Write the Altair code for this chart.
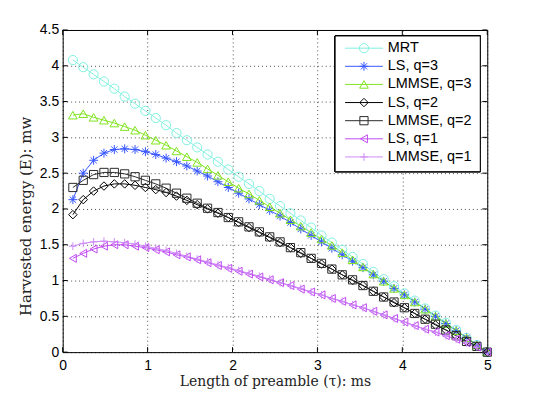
import altair as alt
import pandas as pd

# ---------------- data ----------------
tau = [0.12, 0.242, 0.364, 0.486, 0.608, 0.73, 0.852, 0.974, 1.096, 1.218,
       1.34, 1.462, 1.584, 1.706, 1.828, 1.95, 2.072, 2.194, 2.316, 2.438,
       2.56, 2.682, 2.804, 2.926, 3.048, 3.17, 3.292, 3.414, 3.536, 3.658,
       3.78, 3.902, 4.024, 4.146, 4.268, 4.39, 4.512, 4.634, 4.756, 4.878, 5.0]

mrt = [4.08, 3.98, 3.88, 3.78, 3.68, 3.57, 3.47, 3.37, 3.27, 3.17,
       3.06, 2.96, 2.86, 2.76, 2.66, 2.55, 2.45, 2.35, 2.25, 2.14,
       2.04, 1.94, 1.84, 1.74, 1.63, 1.53, 1.43, 1.33, 1.23, 1.12,
       1.02, 0.92, 0.82, 0.72, 0.61, 0.51, 0.41, 0.31, 0.20, 0.10, 0.00]

ls_q3 = [2.13, 2.50, 2.68, 2.78, 2.83, 2.84, 2.83, 2.80, 2.76, 2.71,
         2.66, 2.60, 2.53, 2.46, 2.38, 2.30, 2.22, 2.14, 2.06, 1.98,
         1.90, 1.81, 1.72, 1.63, 1.54, 1.45, 1.36, 1.27, 1.18, 1.08,
         0.99, 0.89, 0.80, 0.70, 0.60, 0.50, 0.40, 0.30, 0.20, 0.10, 0.00]

lmmse_q3 = [3.31, 3.33, 3.28, 3.24, 3.20, 3.15, 3.10, 3.03, 2.96, 2.89,
            2.81, 2.73, 2.65, 2.56, 2.47, 2.38, 2.29, 2.21, 2.12, 2.03,
            1.94, 1.85, 1.76, 1.67, 1.58, 1.49, 1.39, 1.29, 1.19, 1.09,
            0.99, 0.89, 0.80, 0.70, 0.60, 0.50, 0.40, 0.30, 0.20, 0.10, 0.00]

ls_q2 = [1.92, 2.13, 2.25, 2.32, 2.35, 2.35, 2.33, 2.30, 2.27, 2.23,
         2.18, 2.12, 2.06, 2.00, 1.94, 1.88, 1.81, 1.74, 1.67, 1.60,
         1.53, 1.46, 1.38, 1.31, 1.23, 1.16, 1.08, 1.00, 0.93, 0.85,
         0.77, 0.69, 0.62, 0.54, 0.46, 0.38, 0.31, 0.23, 0.15, 0.08, 0.00]

lmmse_q2 = [2.30, 2.40, 2.48, 2.51, 2.51, 2.49, 2.45, 2.40, 2.35, 2.29,
            2.22, 2.15, 2.08, 2.01, 1.95, 1.88, 1.82, 1.75, 1.68, 1.61,
            1.54, 1.46, 1.39, 1.31, 1.24, 1.16, 1.08, 1.01, 0.93, 0.85,
            0.77, 0.70, 0.62, 0.54, 0.46, 0.39, 0.31, 0.23, 0.15, 0.08, 0.00]

ls_q1 = [1.31, 1.38, 1.44, 1.48, 1.50, 1.50, 1.48, 1.46, 1.43, 1.40,
         1.36, 1.33, 1.29, 1.25, 1.21, 1.17, 1.13, 1.09, 1.05, 1.01,
         0.97, 0.93, 0.88, 0.84, 0.80, 0.75, 0.71, 0.66, 0.62, 0.57,
         0.52, 0.47, 0.42, 0.37, 0.32, 0.28, 0.23, 0.18, 0.13, 0.07, 0.00]

lmmse_q1 = [1.48, 1.52, 1.54, 1.55, 1.54, 1.53, 1.51, 1.48, 1.45, 1.42,
            1.38, 1.34, 1.30, 1.26, 1.22, 1.18, 1.14, 1.10, 1.06, 1.02,
            0.97, 0.93, 0.89, 0.84, 0.80, 0.75, 0.71, 0.66, 0.62, 0.57,
            0.52, 0.47, 0.42, 0.37, 0.32, 0.28, 0.23, 0.18, 0.13, 0.07, 0.00]

series_names = ["MRT", "LS, q=3", "LMMSE, q=3", "LS, q=2", "LMMSE, q=2",
                "LS, q=1", "LMMSE, q=1"]
series_values = [mrt, ls_q3, lmmse_q3, ls_q2, lmmse_q2, ls_q1, lmmse_q1]

x_ticks = [0, 1, 2, 3, 4, 5]
y_ticks = [0, 0.5, 1, 1.5, 2, 2.5, 3, 3.5, 4, 4.5]

# ---------------- styling ----------------
colors = ["#80F0E0", "#3657FF", "#80E41E", "#000000", "#2a2a2a", "#C04AF2", "#CF8CF8"]
asterisk = "M-1,0L1,0M0,-1L0,1M-0.7,-0.7L0.7,0.7M-0.7,0.7L0.7,-0.7"
plus = "M-1,0L1,0M0,-1L0,1"
shapes = ["circle", asterisk, "triangle-up", "diamond", "square", "triangle-left", plus]
sizes = [85, 60, 85, 85, 55, 85, 60]

W, H = 427, 324

rows = []
for name, vals in zip(series_names, series_values):
    for t, v in zip(tau, vals):
        rows.append({"tau": t, "E": v, "series": name})
df = pd.DataFrame(rows)

color_scale = alt.Scale(domain=series_names, range=colors)
shape_scale = alt.Scale(domain=series_names, range=shapes)
size_scale = alt.Scale(domain=series_names, range=sizes)

x_enc = alt.X("tau:Q", scale=alt.Scale(domain=[0, 5], nice=False, zero=False),
              axis=alt.Axis(values=x_ticks, format="d", labelFlush=False,
                            labelPadding=6, title="Length of preamble (τ): ms",
                            titleFontSize=14,
                            titleX=W / 2, titleY=34, titleBaseline="alphabetic"))
y_enc = alt.Y("E:Q", scale=alt.Scale(domain=[0, 4.5], nice=False, zero=False),
              axis=alt.Axis(values=y_ticks, format="~g", labelFlush=False,
                            labelPadding=4, title="Harvested energy (E): mw",
                            titleFontSize=15,
                            titleX=-37, titleY=187, titleAngle=270,
                            titleAlign="center", titleBaseline="middle"))
col = alt.Color("series:N", scale=color_scale, legend=None)

lines = alt.Chart(df).mark_line(strokeWidth=1).encode(
    x=x_enc, y=y_enc, color=col)
points = alt.Chart(df).mark_point(filled=False, strokeWidth=1, opacity=1).encode(
    x=x_enc, y=y_enc, color=col,
    shape=alt.Shape("series:N", scale=shape_scale, legend=None),
    size=alt.Size("series:N", scale=size_scale, legend=None))

xt = pd.DataFrame({"tau": x_ticks})
yt = pd.DataFrame({"E": y_ticks})
tick_bottom = alt.Chart(xt).mark_rule(color="black", strokeWidth=1).encode(
    x=x_enc, y=alt.value(H), y2=alt.value(H - 5))
tick_top = alt.Chart(xt).mark_rule(color="black", strokeWidth=1).encode(
    x=x_enc, y=alt.value(0), y2=alt.value(5))
tick_left = alt.Chart(yt).mark_rule(color="black", strokeWidth=1).encode(
    y=y_enc, x=alt.value(0), x2=alt.value(5))
tick_right = alt.Chart(yt).mark_rule(color="black", strokeWidth=1).encode(
    y=y_enc, x=alt.value(W), x2=alt.value(W - 5))

main = alt.layer(lines, points, tick_bottom, tick_top, tick_left, tick_right)

# ---------------- legend (MATLAB style box) ----------------
leg = pd.DataFrame({"series": series_names})
ly = alt.Y("series:N", scale=alt.Scale(type="point", domain=series_names,
                                       range=[18.3, 127.7], padding=0), axis=None)
box = alt.Chart(leg).mark_rect(fill="white", stroke="black", strokeWidth=1).encode(
    x=alt.value(274), x2=alt.value(420), y=alt.value(6), y2=alt.value(142.5))
leg_lines = alt.Chart(leg).mark_rule(strokeWidth=1).encode(
    x=alt.value(284), x2=alt.value(322), y=ly, color=col)
leg_pts = alt.Chart(leg).mark_point(filled=False, strokeWidth=1, opacity=1).encode(
    x=alt.value(303), y=ly, color=col,
    shape=alt.Shape("series:N", scale=shape_scale, legend=None),
    size=alt.Size("series:N", scale=size_scale, legend=None))
leg_text = alt.Chart(leg).mark_text(align="left", baseline="middle",
                                    font="Liberation Sans", fontSize=14.5,
                                    color="black").encode(
    x=alt.value(327), y=ly, text="series:N")
legend = alt.layer(box, leg_lines, leg_pts, leg_text)

chart = alt.layer(main, legend).resolve_scale(y="independent").properties(
    width=W, height=H,
    background="white",
    autosize=alt.AutoSizeParams(type="none"),
    padding={"left": 55, "top": 21, "right": 45, "bottom": 40},
).configure_view(stroke="black", strokeWidth=1).configure_axis(
    grid=True, gridColor="black", gridDash=[1, 3], gridWidth=1, gridOpacity=0.7,
    domain=False, ticks=False, tickSize=0,
    labelFont="Liberation Sans", labelFontSize=14, labelColor="black",
    titleFont="DejaVu Serif", titleFontSize=15, titleFontWeight="normal",
    titleColor="#222222",
)

chart.save("out.html", embed_options={"renderer": "svg", "actions": False})
